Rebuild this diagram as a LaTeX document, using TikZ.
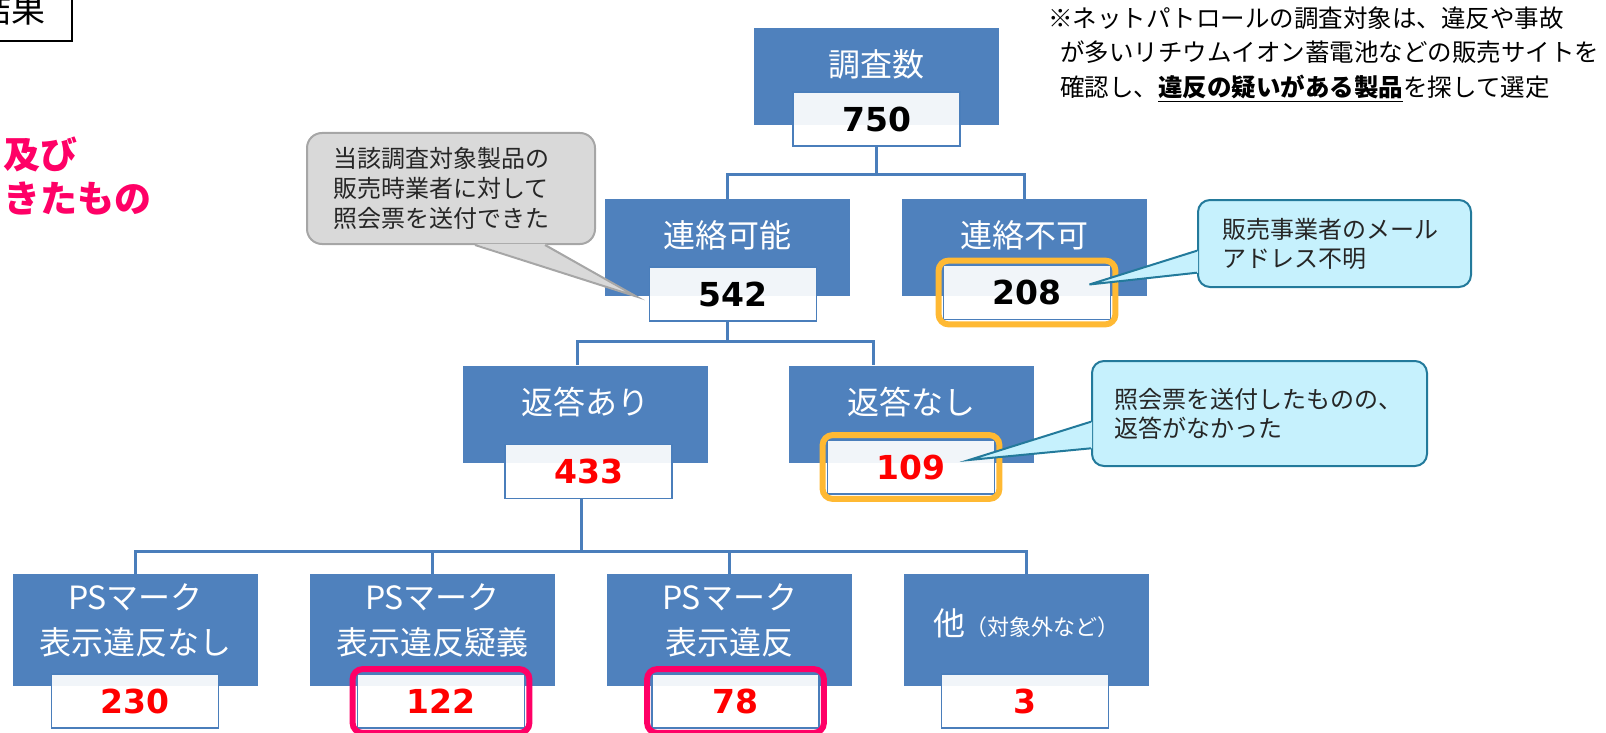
\documentclass[tikz,border=0pt]{standalone}
\usepackage{fontspec}
\usepackage{tikz}
\setmainfont{Noto Sans CJK JP}
\newfontfamily\numfont{DejaVu Sans}
\definecolor{boxblue}{HTML}{4F81BD}
\definecolor{linkblue}{HTML}{4A7EBB}
\definecolor{numred}{HTML}{FF0000}
\definecolor{hiorange}{HTML}{FFB933}
\definecolor{hipink}{HTML}{FF0066}
\definecolor{notegray}{HTML}{D9D9D9}
\definecolor{noteedge}{HTML}{A6A6A6}
\definecolor{notecyan}{HTML}{C6F1FD}
\definecolor{cyanedge}{HTML}{237A9B}
\tikzset{
	basebox/.style={fill=boxblue, text=white, minimum width=122.5pt, inner sep=0pt},
	catbox/.style={basebox, minimum height=48.5pt, font=\fontsize{16}{19}\selectfont, text height=8pt, text depth=8pt},
	psbox/.style={basebox, minimum height=56pt, align=center, font=\fontsize{16}{22.5}\selectfont, text height=36pt, text depth=12pt},
	numbox/.style={draw=linkblue, line width=0.9pt, fill=white, fill opacity=0.92, text opacity=1, minimum width=83.5pt, minimum height=27pt, inner sep=0pt, font=\numfont\bfseries\fontsize{16.5}{19}\selectfont},
	rednum/.style={numbox, text=numred},
	link/.style={draw=linkblue, line width=1.5pt},
	hilite/.style={line width=3pt, rounded corners=5pt},
	graynote/.style={fill=notegray, draw=noteedge, line width=1pt, rounded corners=7.5pt, align=left, text=black!85, font=\fontsize{12}{15}\selectfont},
	cyannote/.style={fill=notecyan, draw=cyanedge, line width=1pt, rounded corners=6pt, align=left, text=black!85, font=\fontsize{12}{14.5}\selectfont}
}
\begin{document}
\begin{tikzpicture}[x=0.5pt, y=-0.5pt]
			\useasboundingbox ( 0 , 0 ) rectangle ( 1606 , 733 );
			\node[draw, line width=1pt, inner xsep=13pt, inner ysep=8pt, anchor=south east, font=\fontsize{17}{20}\selectfont] (kekka) at ( 73 , 42.5 ) {結果};
			\node[anchor=west, align=left, inner sep=0pt, text=hipink, font=\bfseries\fontsize{18.5}{22}\selectfont] (kanren) at ( 3 , 176 ) {及び\\きたもの};
			\node[anchor=west, align=left, inner sep=0pt, font=\fontsize{12.25}{17.25}\selectfont] (chui) at ( 1048 , 54.5 ) {※ネットパトロールの調査対象は、違反や事故\\\hspace*{6pt}が多いリチウムイオン蓄電池などの販売サイトを\\\hspace*{6pt}確認し、\textbf{\underline{違反の疑いがある製品}}を探して選定};
			\node[catbox] (chousa) at ( 876 , 76.5 ) {調査数};
			\node[numbox] (n750) at ( 876.5 , 119 ) {750};
			\node[catbox] (kanou) at ( 727 , 247.5 ) {連絡可能};
			\node[catbox] (fuka) at ( 1024 , 247.5 ) {連絡不可};
			\node[numbox] (n542) at ( 733 , 294 ) {542};
			\node[numbox] (n208) at ( 1027 , 292.5 ) {208};
			\node[catbox] (ari) at ( 585 , 414 ) {返答あり};
			\node[catbox] (nashi) at ( 911 , 414 ) {返答なし};
			\node[rednum] (n433) at ( 588.5 , 471.5 ) {433};
			\node[rednum] (n109) at ( 911 , 467 ) {109};
			\node[psbox] (ps1) at ( 135.5 , 630 ) {PSマーク\\表示違反なし};
			\node[psbox] (ps2) at ( 432.5 , 630 ) {PSマーク\\表示違反疑義};
			\node[psbox] (ps3) at ( 729.5 , 630 ) {PSマーク\\表示違反};
			\node[basebox, minimum height=56pt, font=\fontsize{16}{19}\selectfont, text height=8pt, text depth=3pt] (other) at ( 1026.5 , 630 ) {他{\fontsize{11}{13}\selectfont（対象外など）}};
			\node[rednum] (n230) at ( 135 , 701 ) {230};
			\node[rednum] (n122) at ( 441 , 701 ) {122};
			\node[rednum] (n78) at ( 735.5 , 701 ) {78};
			\node[rednum] (n3) at ( 1025 , 701 ) {3};
			\draw[link] (n750.south) -- ++( 0 , 28 ) -| (kanou.north);
			\draw[link] (n750.south) -- ++( 0 , 28 ) -| (fuka.north);
			\draw[link] (kanou |- n542.south) -- ++( 0 , 20 ) -| ([xshift=-4pt]ari.north);
			\draw[link] (kanou |- n542.south) -- ++( 0 , 20 ) -| ([xshift=-19pt]nashi.north);
			\foreach \ps in {ps1, ps2, ps3, other}
				\draw[link] ([xshift=-3.75pt]n433.south) -- ++( 0 , 52 ) -| (\ps.north);
			\foreach \n in {n208, n109}
				\draw[hilite, hiorange] ([xshift=-2pt, yshift=2pt]\n.north west) rectangle ([xshift=2pt, yshift=-2pt]\n.south east);
			\foreach \n in {n122, n78}
				\draw[hilite, hipink] ([xshift=-2pt, yshift=2pt]\n.north west) rectangle ([xshift=2pt, yshift=-2pt]\n.south east);
			\node[graynote, text width=118pt, inner xsep=13pt, minimum height=55.5pt] (tousai) at ( 451 , 188.5 ) {当該調査対象製品の\\販売時業者に対して\\照会票を送付できた};
			\fill[notegray] ([xshift=12pt, yshift=0.6pt]tousai.south) -- ([xshift=16pt]kanou.south west) -- ([xshift=47pt, yshift=0.6pt]tousai.south) -- cycle;
			\draw[noteedge, line width=1pt] ([xshift=12pt]tousai.south) -- ([xshift=16pt]kanou.south west) -- ([xshift=47pt]tousai.south);
			\node[cyannote, text width=112.5pt, inner xsep=12pt, minimum height=43.5pt] (mail) at ( 1334.5 , 243.5 ) {販売事業者のメール\\アドレス不明};
			\fill[notecyan] ([xshift=0.6pt, yshift=-3.6pt]mail.west) -- ([xshift=-11pt, yshift=4pt]n208.east) -- ([xshift=0.6pt, yshift=-14.6pt]mail.west) -- cycle;
			\draw[cyanedge, line width=1pt] ([yshift=-3.6pt]mail.west) -- ([xshift=-11pt, yshift=4pt]n208.east) -- ([yshift=-14.6pt]mail.west);
			\node[cyannote, text width=145pt, inner xsep=11.25pt, minimum height=52.5pt] (henshin) at ( 1259.5 , 413.5 ) {照会票を送付したものの、\\返答がなかった};
			\fill[notecyan] ([xshift=0.6pt, yshift=-4.1pt]henshin.west) -- ([xshift=-13.2pt, yshift=3.5pt]n109.east) -- ([xshift=0.6pt, yshift=-17.4pt]henshin.west) -- cycle;
			\draw[cyanedge, line width=1pt] ([yshift=-4.1pt]henshin.west) -- ([xshift=-13.2pt, yshift=3.5pt]n109.east) -- ([yshift=-17.4pt]henshin.west);
		\end{tikzpicture}
\end{document}
